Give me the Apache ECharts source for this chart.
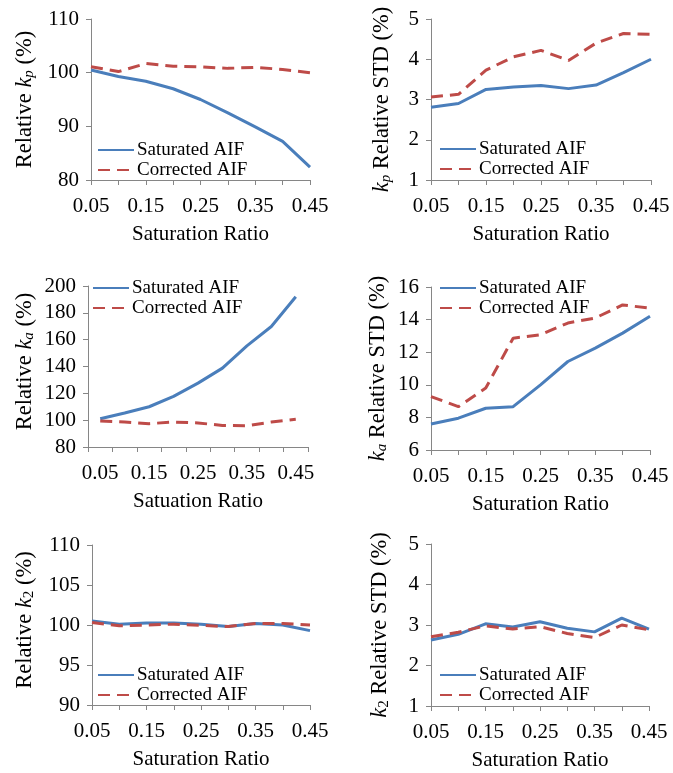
<!DOCTYPE html>
<html>
<head>
<meta charset="utf-8">
<script src="https://cdn.jsdelivr.net/npm/echarts@6/dist/echarts.min.js"></script>
<style>
html,body{margin:0;padding:0;background:#fff;}
#c{width:673px;height:773px;}
</style>
</head>
<body>
<div id="c"></div>
<script>
const categories = ['0.05','0.10','0.15','0.20','0.25','0.30','0.35','0.40','0.45'];
const seriesNames = ['Saturated AIF','Corrected AIF'];
const xTitles = ['Saturation Ratio','Saturation Ratio','Satuation Ratio','Saturation Ratio','Saturation Ratio','Saturation Ratio'];

const kpRelSat = [100.5, 99.3, 98.4, 97.0, 95.0, 92.5, 89.9, 87.2, 82.4];
const kpRelCor = [101.1, 100.2, 101.7, 101.2, 101.1, 100.8, 101.0, 100.6, 100.0];
const kpStdSat = [2.81, 2.90, 3.25, 3.31, 3.35, 3.27, 3.36, 3.67, 4.00];
const kpStdCor = [3.06, 3.13, 3.73, 4.06, 4.22, 3.97, 4.40, 4.64, 4.62];
const kaRelSat = [101.0, 105.3, 110.0, 117.7, 127.6, 138.8, 155.4, 169.8, 192.0];
const kaRelCor = [99.4, 98.6, 97.4, 98.6, 97.9, 96.1, 95.9, 98.6, 100.6];
const kaStdSat = [7.60, 7.95, 8.56, 8.66, 10.0, 11.43, 12.25, 13.17, 14.2];
const kaStdCor = [9.28, 8.66, 9.80, 12.86, 13.07, 13.79, 14.1, 14.9, 14.7];
const k2RelSat = [100.5, 100.1, 100.25, 100.25, 100.1, 99.8, 100.2, 100.0, 99.3];
const k2RelCor = [100.3, 99.9, 100.0, 100.1, 99.95, 99.8, 100.2, 100.2, 100.0];
const k2StdSat = [2.63, 2.77, 3.03, 2.95, 3.08, 2.92, 2.83, 3.17, 2.90];
const k2StdCor = [2.71, 2.82, 2.98, 2.90, 2.96, 2.79, 2.69, 3.00, 2.88];

const kpRelTicks = [80, 90, 100, 110];
const kpStdTicks = [1, 2, 3, 4, 5];
const kaRelTicks = [80, 100, 120, 140, 160, 180, 200];
const kaStdTicks = [6, 8, 10, 12, 14, 16];
const k2RelTicks = [90, 95, 100, 105, 110];
const k2StdTicks = [1, 2, 3, 4, 5];

const FONT = '"Liberation Serif","Times New Roman",serif';
const BLUE = '#4A7EBB';
const RED = '#BE4B48';
const AXIS = '#868686';

const panels = [
  {grid:{left:91, top:19, width:219, height:161}, ticks:kpRelTicks, sat:kpRelSat, cor:kpRelCor, gap:false,
   name:'Relative {i|k}{s|p} (%)', nameGap:54, shift:0, legend:{left:97, top:140}},
  {grid:{left:431, top:19, width:220, height:161}, ticks:kpStdTicks, sat:kpStdSat, cor:kpStdCor, gap:false,
   name:'{i|k}{s|p} Relative STD (%)', nameGap:37, shift:0, legend:{left:439, top:139}},
  {grid:{left:88, top:286, width:220, height:161}, ticks:kaRelTicks, sat:kaRelSat, cor:kaRelCor, gap:true,
   name:'Relative {i|k}{s|a} (%)', nameGap:51, shift:10, legend:{left:92, top:278}},
  {grid:{left:431, top:287, width:219, height:163}, ticks:kaStdTicks, sat:kaStdSat, cor:kaStdCor, gap:false,
   name:'{i|k}{s|a} Relative STD (%)', nameGap:41, shift:0, legend:{left:439, top:278}},
  {grid:{left:92, top:545, width:218, height:160}, ticks:k2RelTicks, sat:k2RelSat, cor:k2RelCor, gap:false,
   name:'Relative {i|k}{u|2} (%)', nameGap:55, shift:10, legend:{left:97, top:665}},
  {grid:{left:431, top:544, width:218, height:162}, ticks:k2StdTicks, sat:k2StdSat, cor:k2StdCor, gap:false,
   name:'{i|k}{u|2} Relative STD (%)', nameGap:39, shift:0, legend:{left:439, top:665}}
];

const NF = 22.5;
const rich = {
  i: {fontFamily: FONT, fontSize: NF, fontStyle: 'italic', color: '#000'},
  s: {fontFamily: FONT, fontSize: 15, fontStyle: 'italic', color: '#000', verticalAlign: 'bottom'},
  u: {fontFamily: FONT, fontSize: 15, color: '#000', verticalAlign: 'bottom'}
};

const option = {
  backgroundColor: '#fff',
  animation: false,
  grid: [], xAxis: [], yAxis: [], series: [], legend: []
};

panels.forEach((p, idx) => {
  option.grid.push(Object.assign({containLabel:false}, p.grid));
  option.xAxis.push({
    type: 'category', gridIndex: idx, data: categories, boundaryGap: p.gap,
    name: xTitles[idx], nameLocation: 'middle', nameGap: 44,
    nameTextStyle: {fontFamily: FONT, fontSize: 21, color: '#000'},
    axisLine: {lineStyle: {color: AXIS, width: 1}},
    axisTick: {show: true, interval: 0, length: 5, lineStyle: {color: AXIS}},
    axisLabel: {interval: 1, margin: 16, fontFamily: FONT, fontSize: 21, color: '#000'},
    splitLine: {show: false}
  });
  const t = p.ticks;
  option.yAxis.push({
    type: 'value', gridIndex: idx, min: t[0], max: t[t.length-1], interval: t[1]-t[0],
    name: p.name, nameLocation: 'middle', nameRotate: 90, nameGap: p.nameGap,
    nameTextStyle: {fontFamily: FONT, fontSize: NF, color: '#000', rich: rich, padding: [0, 0, 0, p.shift]},
    axisLine: {show: true, lineStyle: {color: AXIS, width: 1}},
    axisTick: {show: true, length: 5, lineStyle: {color: AXIS}},
    axisLabel: {margin: 12, fontFamily: FONT, fontSize: 21, color: '#000'},
    splitLine: {show: false}
  });
  option.series.push({
    type: 'line', name: seriesNames[0], xAxisIndex: idx, yAxisIndex: idx, data: p.sat,
    symbol: 'none', lineStyle: {color: BLUE, width: 3}, itemStyle: {color: BLUE}
  });
  option.series.push({
    type: 'line', name: seriesNames[1], xAxisIndex: idx, yAxisIndex: idx, data: p.cor,
    symbol: 'none', lineStyle: {color: RED, width: 3, type: [12, 7]}, itemStyle: {color: RED}
  });
  option.legend.push({
    data: seriesNames, orient: 'vertical', left: p.legend.left, top: p.legend.top,
    padding: 0, itemGap: 0, itemWidth: 36, itemHeight: 14,
    selectedMode: false,
    itemStyle: {opacity: 0},
    textStyle: {fontFamily: FONT, fontSize: 19, color: '#000', lineHeight: 20, padding:[0,0,0,-2]}
  });
});

const chart = echarts.init(document.getElementById('c'), null, {renderer: 'canvas'});
chart.setOption(option);
</script>
</body>
</html>
